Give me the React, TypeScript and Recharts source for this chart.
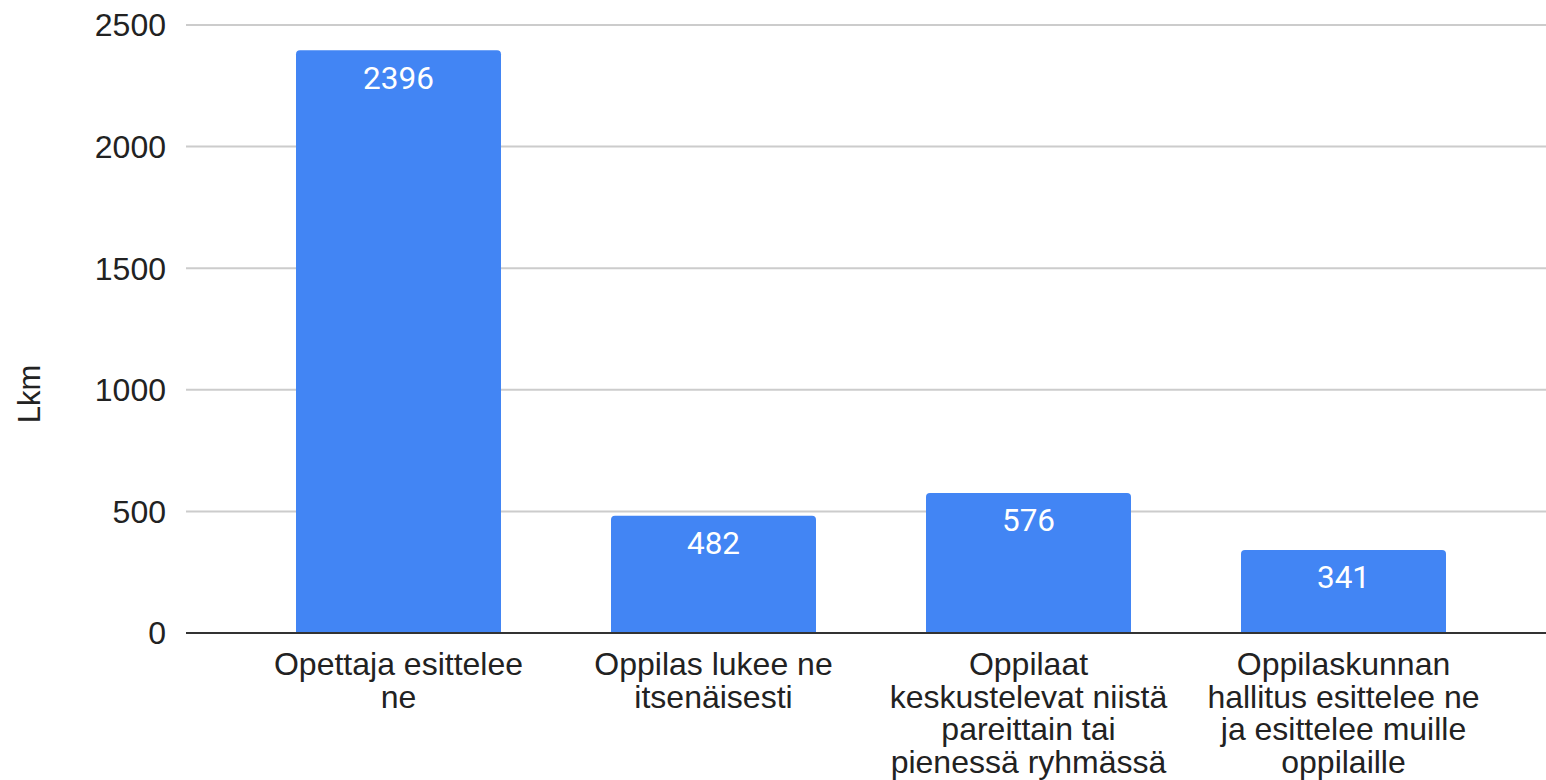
import React from 'react';
import { BarChart, Bar, XAxis, YAxis, CartesianGrid, LabelList } from 'recharts';

const categories = [
  'Opettaja esittelee\nne',
  'Oppilas lukee ne\nitsenäisesti',
  'Oppilaat\nkeskustelevat niistä\npareittain tai\npienessä ryhmässä',
  'Oppilaskunnan\nhallitus esittelee ne\nja esittelee muille\noppilaille',
];
const counts = [2396, 482, 576, 341];
const yTicks = [0, 500, 1000, 1500, 2000, 2500];

const data = categories.map((name, i) => ({ name, value: counts[i] }));

const FONT = "'Liberation Sans', Arial, sans-serif";

const CategoryTick = ({ x, y, payload }: any) => {
  const lines = String(payload.value).split('\n');
  return (
    <text x={x} y={y} textAnchor="middle" fill="#222" fontSize={32} fontFamily={FONT}>
      {lines.map((line, i) => (
        <tspan key={i} x={x} dy={i === 0 ? 42 : 32.5}>
          {line}
        </tspan>
      ))}
    </text>
  );
};

const AxisTitle = () => (
  <text
    x={29}
    y={394}
    transform="rotate(-90, 29, 394)"
    textAnchor="middle"
    dominantBaseline="central"
    fill="#222"
    fontSize={31}
    fontFamily={FONT}
  >
    Lkm
  </text>
);

export default function App() {
  return (
    <div style={{ background: '#fff' }}>
      <style>{'body { margin: 0; }'}</style>
      <BarChart
        width={1546}
        height={780}
        data={data}
        margin={{ top: 25, right: 0, bottom: 0, left: 0 }}
        barSize={205}
      >
        <CartesianGrid vertical={false} stroke="#ccc" strokeWidth={2} />
        <XAxis
          dataKey="name"
          height={147}
          interval={0}
          tickLine={false}
          tickSize={0}
          tickMargin={0}
          axisLine={{ stroke: '#333', strokeWidth: 2 }}
          padding={{ left: 55, right: 45 }}
          tick={<CategoryTick />}
        />
        <YAxis
          width={186}
          domain={[0, 2500]}
          ticks={yTicks}
          axisLine={false}
          tickLine={false}
          tickSize={0}
          tickMargin={20}
          tick={{ fill: '#222', fontSize: 32, fontFamily: FONT }}
          label={{ content: () => <AxisTitle /> }}
        />
        <Bar dataKey="value" fill="#4285F4" radius={[4, 4, 0, 0]} isAnimationActive={false}>
          <LabelList
            dataKey="value"
            position="insideTop"
            offset={16}
            fill="#fff"
            fontSize={31.5}
            fontFamily="Roboto"
          />
        </Bar>
      </BarChart>
    </div>
  );
}
